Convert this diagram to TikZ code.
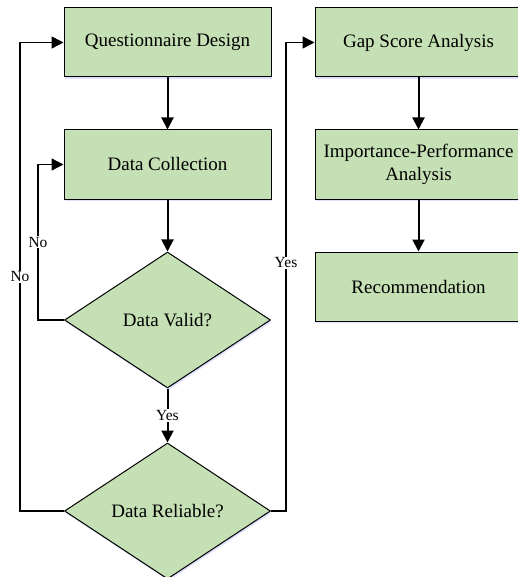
\documentclass[tikz,border=0pt]{standalone}
\usepackage{fontspec}
\setmainfont{Liberation Serif}
\usepackage{tikz}
\usetikzlibrary{arrows.meta,shapes.geometric,positioning,shadows}
\definecolor{boxgreen}{RGB}{197,224,180}
\tikzstyle{proc}=[
	rectangle,
	draw=black,
	line width=1pt,
	fill=boxgreen,
	minimum width=207pt,
	minimum height=69pt,
	align=center,
	font=\fontsize{19}{23}\selectfont,
	drop shadow={shadow xshift=1pt, shadow yshift=-2pt, fill=blue!25, opacity=0.5}
]
\tikzstyle{decision}=[
	diamond,
	draw=black,
	line width=1pt,
	fill=boxgreen,
	inner sep=0pt,
	aspect=1.515,
	minimum width=206pt,
	minimum height=136pt,
	font=\fontsize{19}{23}\selectfont,
	drop shadow={shadow xshift=1pt, shadow yshift=-2pt, fill=blue!25, opacity=0.5}
]
\tikzstyle{flow}=[
	line width=2pt,
	-{Triangle[length=12pt,width=12pt]}
]
\tikzstyle{loop}=[
	line width=1.5pt,
	-{Triangle[length=12pt,width=12pt]}
]
\tikzstyle{lbl}=[
	fill=white,
	inner sep=1pt,
	font=\fontsize{15.5}{17}\selectfont
]

\begin{document}
\begin{tikzpicture}[x=1pt,y=1pt,node distance=52pt]
\useasboundingbox (0,0) rectangle (518,-577);

\node[proc] (qd) at (167.5,-42.5) {Questionnaire Design};
\node[proc, below=of qd] (dc) {Data Collection};
\node[decision, below=of dc] (dv) {Data Valid?};
\node[decision, below=54pt of dv] (dr) {Data Reliable?};

\node[proc, right=43pt of qd] (gsa) {Gap Score Analysis};
\node[proc, below=of gsa] (ipa) {Importance-Performance\\Analysis};
\node[proc, below=of ipa] (rec) {Recommendation};

\draw[flow] (qd) -- (dc);
\draw[flow] (dc) -- (dv);
\draw[flow] (dv) -- node[lbl, pos=0.5] {Yes} (dr);
\draw[flow] (gsa) -- (ipa);
\draw[flow] (ipa) -- (rec);

\draw[loop] (dv.west) -- ++(-26,0) |- node[lbl, pos=0.25] {No} (dc.west);
\draw[loop] (dr.west) -- ++(-44,0) |- node[lbl, pos=0.25] {No} (qd.west);
\draw[loop] (dr.east) -- ++(15,0) |- node[lbl, pos=0.265] {Yes} (gsa.west);

\end{tikzpicture}
\end{document}
